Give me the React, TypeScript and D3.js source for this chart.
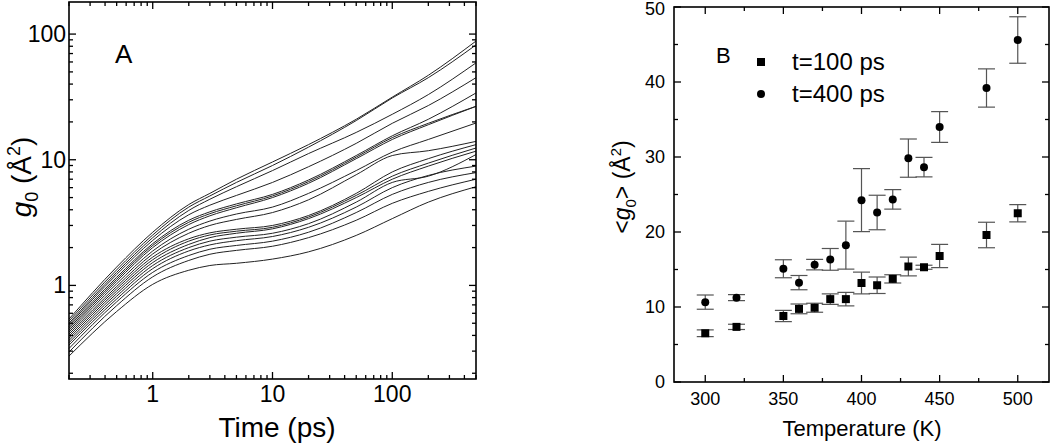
import React from 'react';
import * as d3 from 'd3';

// Panel A: g0 vs time, one curve per temperature
const times = [0.2, 0.5, 1, 2, 3, 5, 10, 20, 50, 100, 200, 500];
const curves: number[][] = [
  [0.54, 1.4, 2.65, 4.4, 5.4, 7.0, 9.6, 13.2, 21, 31.5, 47, 88],
  [0.52, 1.33, 2.52, 4.2, 5.15, 6.6, 9.0, 12.6, 20.5, 31, 45, 82],
  [0.5, 1.27, 2.4, 3.95, 4.85, 6.1, 8.2, 11.2, 16.5, 23, 33, 59],
  [0.485, 1.22, 2.28, 3.65, 4.35, 5.2, 6.6, 8.8, 13.5, 19.5, 27, 45],
  [0.47, 1.16, 2.15, 3.3, 3.85, 4.45, 5.3, 6.9, 10.8, 15.5, 21, 34],
  [0.455, 1.12, 2.08, 3.18, 3.72, 4.3, 5.15, 6.7, 10.5, 15, 19.5, 26.6],
  [0.44, 1.08, 2.0, 3.05, 3.58, 4.15, 5.0, 6.5, 10.2, 14.5, 19, 26.6],
  [0.425, 1.03, 1.88, 2.8, 3.25, 3.7, 4.2, 5.4, 8.2, 11.5, 14.5, 19.6],
  [0.41, 0.98, 1.78, 2.6, 3.0, 3.35, 3.8, 4.8, 7.6, 10.8, 11.8, 14],
  [0.395, 0.94, 1.68, 2.35, 2.62, 2.8, 3.0, 3.6, 5.4, 8.0, 10.2, 13.2],
  [0.38, 0.9, 1.6, 2.25, 2.52, 2.7, 2.9, 3.5, 5.2, 7.4, 9.4, 12.4],
  [0.365, 0.86, 1.52, 2.12, 2.4, 2.6, 2.82, 3.4, 5.0, 7.0, 8.9, 11.7],
  [0.35, 0.82, 1.44, 2.0, 2.25, 2.42, 2.6, 3.1, 4.6, 6.6, 7.4, 11.0],
  [0.335, 0.78, 1.36, 1.88, 2.1, 2.27, 2.45, 2.9, 4.2, 6.0, 7.5, 8.9],
  [0.315, 0.74, 1.27, 1.73, 1.94, 2.08, 2.25, 2.65, 3.8, 5.3, 6.6, 7.9],
  [0.295, 0.69, 1.17, 1.58, 1.77, 1.9, 2.05, 2.4, 3.3, 4.5, 5.6, 7.0],
  [0.274, 0.62, 1.02, 1.32, 1.44, 1.5, 1.62, 1.85, 2.5, 3.4, 4.6, 6.1],
];

// Panel B: mean g0 vs temperature
const temps = [300, 320, 350, 360, 370, 380, 390, 400, 410, 420, 430, 440, 450, 480, 500];
const g100 = [6.5, 7.35, 8.8, 9.75, 9.9, 11.05, 11.05, 13.2, 12.9, 13.75, 15.4, 15.3, 16.8, 19.6, 22.5];
const err100 = [0.45, 0.35, 0.75, 0.65, 0.6, 0.7, 0.9, 1.45, 1.1, 0.55, 1.25, 0.27, 1.55, 1.7, 1.15];
const g400 = [10.65, 11.25, 15.1, 13.25, 15.65, 16.35, 18.25, 24.25, 22.6, 24.35, 29.85, 28.65, 34.0, 39.2, 45.6];
const err400 = [0.95, 0.4, 1.2, 0.95, 0.7, 1.45, 3.2, 4.2, 2.3, 1.3, 2.55, 1.3, 2.05, 2.55, 3.1];

const xTicksB = [300, 350, 400, 450, 500];
const yTicksB = [0, 10, 20, 30, 40, 50];

const font = "'Liberation Sans', Arial, sans-serif";

const isDecade = (v: number) => Math.abs(Math.log10(v) - Math.round(Math.log10(v))) < 1e-9;

export default function App() {
  // panel A
  const A = { left: 69, right: 476, top: 2, bottom: 379 };
  const xA = d3.scaleLog().domain([0.2, 500]).range([A.left, A.right]);
  const yA = d3.scaleLog().domain([0.18, 180]).range([A.bottom, A.top]);
  const line = d3
    .line<number>()
    .x((_, i) => xA(times[i]))
    .y((d) => yA(d))
    .curve(d3.curveMonotoneX);

  // panel B
  const B = { left: 674, right: 1049, top: 7, bottom: 382 };
  const xB = d3.scaleLinear().domain([280, 520]).range([B.left, B.right]);
  const yB = d3.scaleLinear().domain([0, 50]).range([B.bottom, B.top]);
  const xMinorB = d3.range(300, 520, 25);
  const yMinorB = d3.range(0, 51, 5);

  const major = 7;
  const minor = 4;
  const cap = 8.5;

  const errBars = (vals: number[], errs: number[], key: string) =>
    temps.map((t, i) => {
      const x = xB(t);
      const lo = yB(vals[i] - errs[i]);
      const hi = yB(vals[i] + errs[i]);
      return (
        <g key={key + t}>
          <line x1={x} x2={x} y1={lo} y2={hi} />
          <line x1={x - cap} x2={x + cap} y1={lo} y2={lo} />
          <line x1={x - cap} x2={x + cap} y1={hi} y2={hi} />
        </g>
      );
    });

  return (
    <svg width={1050} height={444} style={{ position: 'absolute', left: 0, top: 0 }} fontFamily={font}>
      <rect width={1050} height={444} fill="#fff" />

      {/* ---------- panel A ---------- */}
      <g fill="none" stroke="#222" strokeWidth={1}>
        {curves.map((c, i) => (
          <path key={i} d={line(c) || ''} />
        ))}
      </g>
      <g stroke="#000" strokeWidth={1.3}>
        {xA.ticks().map((t, i) => {
          const len = isDecade(t) ? major : minor;
          const x = xA(t);
          return (
            <g key={i}>
              <line x1={x} x2={x} y1={A.bottom} y2={A.bottom - len} />
              <line x1={x} x2={x} y1={A.top} y2={A.top + len} />
            </g>
          );
        })}
        {yA.ticks().map((t, i) => {
          const len = isDecade(t) ? major : minor;
          const y = yA(t);
          return (
            <g key={i}>
              <line x1={A.left} x2={A.left + len} y1={y} y2={y} />
              <line x1={A.right} x2={A.right - len} y1={y} y2={y} />
            </g>
          );
        })}
      </g>
      <rect x={A.left} y={A.top} width={A.right - A.left} height={A.bottom - A.top} fill="none" stroke="#000" strokeWidth={1.6} />
      <g fontSize={23} fill="#000">
        {xA.ticks().filter(isDecade).map((t) => (
          <text key={t} x={xA(t)} y={402} textAnchor="middle">{String(t)}</text>
        ))}
        {yA.ticks().filter(isDecade).map((t) => (
          <text key={t} x={66} y={yA(t)} dy="0.35em" textAnchor="end">{String(t)}</text>
        ))}
      </g>
      <text x={115} y={63} fontSize={26}>A</text>
      <text x={277} y={437} fontSize={28} textAnchor="middle">Time (ps)</text>
      <text transform="translate(31,177) rotate(-90)" fontSize={28} textAnchor="middle">
        <tspan fontStyle="italic">g</tspan>
        <tspan dy={7} fontSize={18}>0</tspan>
        <tspan dy={-7}> (Å</tspan>
        <tspan dy={-11} fontSize={18}>2</tspan>
        <tspan dy={11}>)</tspan>
      </text>

      {/* ---------- panel B ---------- */}
      <g stroke="#000" strokeWidth={1.3}>
        {xMinorB.map((t) => {
          const len = t % 50 === 0 ? major : minor;
          const x = xB(t);
          return (
            <g key={t}>
              <line x1={x} x2={x} y1={B.bottom} y2={B.bottom - len} />
              <line x1={x} x2={x} y1={B.top} y2={B.top + len} />
            </g>
          );
        })}
        {yMinorB.map((t) => {
          const len = t % 10 === 0 ? major : minor;
          const y = yB(t);
          return (
            <g key={t}>
              <line x1={B.left} x2={B.left + len} y1={y} y2={y} />
              <line x1={B.right} x2={B.right - len} y1={y} y2={y} />
            </g>
          );
        })}
      </g>
      <rect x={B.left} y={B.top} width={B.right - B.left} height={B.bottom - B.top} fill="none" stroke="#000" strokeWidth={1.6} />

      {/* error bars */}
      <g stroke="#555" strokeWidth={1.2}>
        {errBars(g100, err100, 'e1')}
        {errBars(g400, err400, 'e4')}
      </g>
      {/* markers */}
      <g fill="#000">
        {temps.map((t, i) => (
          <rect key={'s' + t} x={xB(t) - 4} y={yB(g100[i]) - 4} width={8} height={8} />
        ))}
        {temps.map((t, i) => (
          <circle key={'c' + t} cx={xB(t)} cy={yB(g400[i])} r={4} />
        ))}
      </g>

      <g fontSize={18} fill="#000">
        {xTicksB.map((t) => (
          <text key={t} x={xB(t)} y={405} textAnchor="middle">{t}</text>
        ))}
        {yTicksB.map((t) => (
          <text key={t} x={665} y={Math.max(yB(t), 9)} dy="0.35em" textAnchor="end">{t}</text>
        ))}
      </g>

      {/* legend */}
      <text x={716} y={63} fontSize={22}>B</text>
      <rect x={757} y={58} width={8} height={8} fill="#000" />
      <text x={792} y={70} fontSize={24}>t=100 ps</text>
      <circle cx={761} cy={94} r={4} fill="#000" />
      <text x={792} y={102} fontSize={24}>t=400 ps</text>

      <text x={862} y={436} fontSize={22} textAnchor="middle">Temperature (K)</text>
      <text transform="translate(630,187) rotate(-90)" fontSize={23} textAnchor="middle">
        {'<'}
        <tspan fontStyle="italic">g</tspan>
        <tspan dy={6} fontSize={15}>0</tspan>
        <tspan dy={-6}>{'> (Å'}</tspan>
        <tspan dy={-9} fontSize={15}>2</tspan>
        <tspan dy={9}>)</tspan>
      </text>
    </svg>
  );
}
